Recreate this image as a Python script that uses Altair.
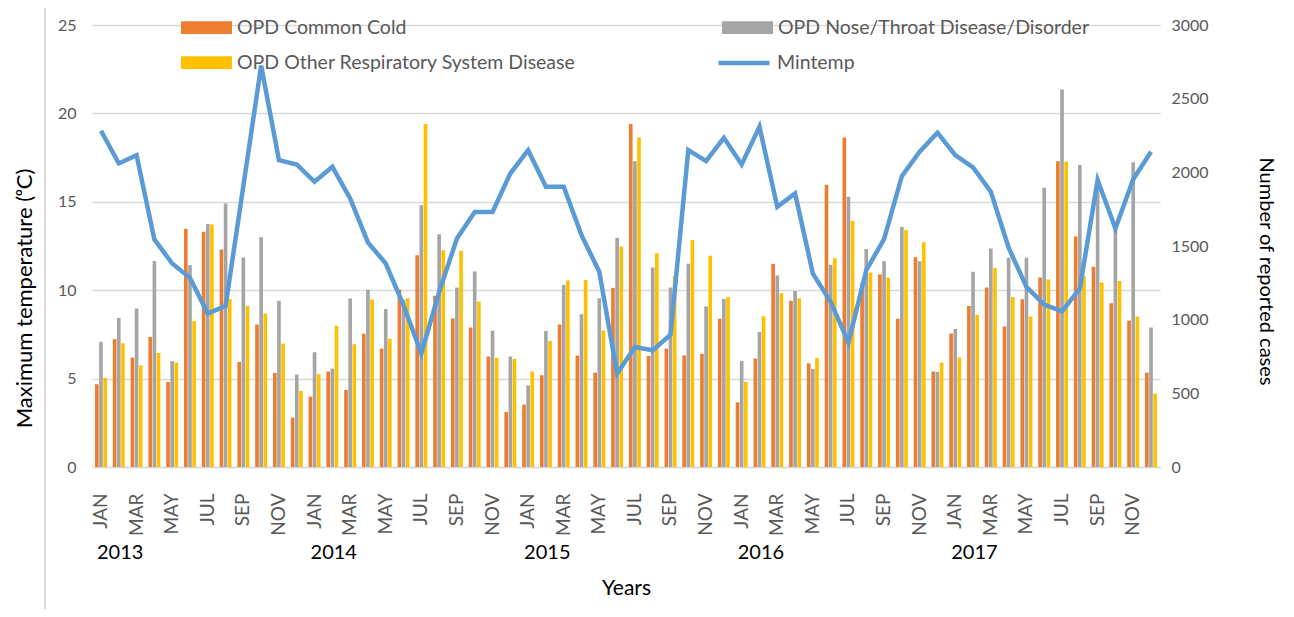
import altair as alt
import pandas as pd

years = [2013, 2014, 2015, 2016, 2017]
months = ["JAN", "FEB", "MAR", "APR", "MAY", "JUN", "JUL", "AUG", "SEP", "OCT", "NOV", "DEC"]
label_months = ["JAN", "MAR", "MAY", "JUL", "SEP", "NOV"]

series_names = [
    "OPD Common Cold",
    "OPD Nose/Throat Disease/Disorder",
    "OPD Other Respiratory System Disease",
]
series_colors = ["#ED7D31", "#A5A5A5", "#FFC000"]
# legend fills column by column: this order gives rows CC | NT and OR
legend_order = [series_names[0], series_names[2], series_names[1]]
legend_colors = [series_colors[0], series_colors[2], series_colors[1]]

# Number of reported cases, monthly Jan 2013 - Dec 2017
common_cold = [
    562, 868, 743, 883, 577, 1616, 1596, 1476, 713, 967, 638, 335,
    478, 648, 523, 904, 804, 1205, 1438, 1162, 1008, 947, 750, 373,
    424, 623, 967, 756, 641, 1216, 2328, 754, 804, 758, 768, 1006,
    439, 736, 1379, 1128, 704, 1915, 2237, 1252, 1307, 1006, 1424, 648,
    906, 1093, 1218, 953, 1139, 1286, 2076, 1564, 1360, 1111, 994, 641,
]
nose_throat = [
    850, 1012, 1075, 1399, 718, 1370, 1650, 1788, 1422, 1560, 1128, 628,
    779, 668, 1144, 1205, 1073, 1136, 1777, 1580, 1218, 1327, 924, 750,
    554, 924, 1236, 1037, 1146, 1555, 2076, 1354, 1218, 1379, 1090, 1141,
    720, 917, 1300, 1195, 666, 1372, 1834, 1480, 1397, 1630, 1397, 646,
    937, 1325, 1483, 1420, 1420, 1895, 2563, 2050, 1908, 1632, 2068, 947,
]
other_resp = [
    605, 840, 689, 774, 709, 990, 1646, 1140, 1093, 1042, 838, 516,
    630, 958, 833, 1136, 871, 1146, 2328, 1471, 1468, 1123, 740, 733,
    648, 856, 1266, 1270, 926, 1496, 2237, 1450, 1296, 1540, 1433, 1154,
    577, 1024, 1180, 1146, 740, 1417, 1670, 1320, 1284, 1608, 1526, 709,
    743, 1034, 1351, 1154, 1021, 1272, 2071, 1296, 1252, 1262, 1021, 498,
]
# Mintemp line (left axis, degrees C)
mintemp = [
    19.02, 17.17, 17.64, 12.87, 11.51, 10.70, 8.68, 9.11, 15.90, 22.70, 17.36, 17.11,
    16.13, 16.98, 15.19, 12.70, 11.51, 9.15, 6.42, 9.90, 12.92, 14.43, 14.43, 16.60,
    17.92, 15.85, 15.85, 13.11, 11.04, 5.28, 6.79, 6.60, 7.49, 17.92, 17.30, 18.62,
    17.11, 19.25, 14.72, 15.47, 10.94, 9.34, 7.04, 11.13, 12.89, 16.45, 17.83, 18.91,
    17.64, 16.94, 15.57, 12.40, 10.19, 9.19, 8.81, 10.09, 16.23, 13.49, 16.28, 17.83,
]

periods = [f"{y}-{m}" for y in years for m in months]
label_periods = [f"{y}-{m}" for y in years for m in label_months]

rows = []
for name, vals in zip(series_names, [common_cold, nose_throat, other_resp]):
    for p, v in zip(periods, vals):
        rows.append({"period": p, "series": name, "cases": v})
bars_df = pd.DataFrame(rows)
line_df = pd.DataFrame({"period": periods, "temp": mintemp, "name": "Mintemp"})
years_df = pd.DataFrame({"period": [f"{y}-JAN" for y in years], "year": [str(y) for y in years]})

FONT = "Lato"
W, H = 1068, 442

x_enc = alt.X(
    "period:N",
    sort=periods,
    scale=alt.Scale(domain=periods, paddingInner=0.33, paddingOuter=0.17),
    axis=alt.Axis(
        values=label_periods,
        labelExpr="split(datum.value, '-')[1]",
        labelAngle=270,
        labelAlign="right",
        labelBaseline="middle",
        labelPadding=26,
        labelFontSize=19,
        labelColor="#595959",
        labelFont=FONT,
        labelOverlap=False,
        ticks=False,
        domain=True,
        domainColor="#D9D9D9",
        domainWidth=1.3,
        grid=False,
        title="Years",
        titleFont=FONT,
        titleFontSize=21,
        titleFontWeight="normal",
        titleColor="black",
        titleX=W / 2,
        titleY=121,
        titleAlign="center",
        titleBaseline="middle",
    ),
)

bars = alt.Chart(bars_df).mark_bar().encode(
    x=x_enc,
    xOffset=alt.XOffset("series:N", sort=series_names,
                        scale=alt.Scale(domain=series_names, paddingInner=0.12)),
    y=alt.Y(
        "cases:Q",
        scale=alt.Scale(domain=[0, 3000], nice=False),
        axis=alt.Axis(
            orient="right",
            values=[0, 500, 1000, 1500, 2000, 2500, 3000],
            format="d",
            grid=False,
            ticks=False,
            domain=False,
            labelFont=FONT,
            labelFontSize=16,
            labelColor="#595959",
            labelPadding=11,
            title="Number of reported cases",
            titleFont=FONT,
            titleFontSize=20,
            titleFontWeight="normal",
            titleColor="black",
            titleAngle=90,
            titleX=105,
            titleY=246,
            titleAlign="center",
            titleBaseline="middle",
        ),
    ),
    color=alt.Color(
        "series:N",
        sort=legend_order,
        scale=alt.Scale(domain=legend_order, range=legend_colors),
        legend=alt.Legend(
            title=None,
            orient="none",
            legendX=89,
            legendY=-23,
            columns=2,
            columnPadding=146,
            rowPadding=-16,
            symbolType="M-1,-0.25H1V0.25H-1Z",
            symbolSize=2601,
            symbolStrokeWidth=0,
            labelFont=FONT,
            labelFontSize=19.5,
            labelColor="#595959",
            labelOffset=5,
            labelLimit=600,
            padding=0,
        ),
    ),
)

line = alt.Chart(line_df).mark_line(strokeWidth=4.5).encode(
    x=x_enc,
    y=alt.Y(
        "temp:Q",
        scale=alt.Scale(domain=[0, 25], nice=False),
        axis=alt.Axis(
            orient="left",
            values=[0, 5, 10, 15, 20, 25],
            grid=True,
            gridColor="#D9D9D9",
            gridWidth=1.3,
            ticks=False,
            domain=False,
            labelFont=FONT,
            labelFontSize=16,
            labelColor="#595959",
            labelPadding=16,
            title="Maximum temperature (ᵒC)",
            titleFont=FONT,
            titleFontSize=22,
            titleFontWeight="normal",
            titleColor="black",
            titleAngle=270,
            titleX=-68,
            titleY=273,
            titleAlign="center",
            titleBaseline="middle",
        ),
    ),
    stroke=alt.Stroke(
        "name:N",
        scale=alt.Scale(domain=["Mintemp"], range=["#5B9BD5"]),
        legend=alt.Legend(
            title=None,
            orient="none",
            legendX=624,
            legendY=10,
            symbolType="stroke",
            symbolSize=2601,
            symbolStrokeWidth=4.5,
            labelFont=FONT,
            labelFontSize=19.5,
            labelColor="#595959",
            labelOffset=5,
            padding=0,
        ),
    ),
)

year_text = alt.Chart(years_df).mark_text(
    align="left", baseline="middle", dx=-4, fontSize=20, font=FONT, color="black"
).encode(
    x=x_enc,
    y=alt.value(528),
    text="year:N",
)

border = alt.Chart(years_df).mark_rule(color="#D9D9D9", strokeWidth=1.3).encode(
    x=alt.value(-47),
    y=alt.value(-25),
    y2=alt.value(592),
)

chart = (
    alt.layer(border, bars, line, year_text)
    .resolve_scale(y="independent")
    .properties(
        width=W,
        height=H,
        padding={"left": 84, "top": 17, "right": 126, "bottom": 142},
        autosize=alt.AutoSizeParams(type="none"),
    )
    .configure_view(stroke=None)
)

chart.save("out.html", embed_options={"renderer": "svg", "actions": False})
